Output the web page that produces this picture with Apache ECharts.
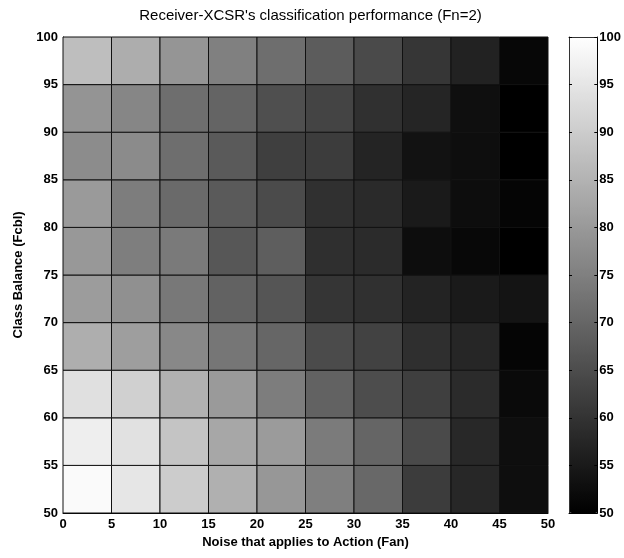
<!DOCTYPE html>
<html>
<head>
<meta charset="utf-8">
<script src="https://cdn.jsdelivr.net/npm/echarts@6/dist/echarts.min.js"></script>
<style>
  html, body { margin: 0; padding: 0; background: #fff; }
  #chart { width: 624px; height: 558px; }
</style>
</head>
<body>
<div id="chart"></div>
<script>
// Lower edges of the cells along each axis (cell size = 5)
const noiseFan = [0, 5, 10, 15, 20, 25, 30, 35, 40, 45];
const balanceFcbl = [50, 55, 60, 65, 70, 75, 80, 85, 90, 95];
const cellStep = 5;

// Performance per class-balance band, one value per noise band (0-5 ... 45-50)
const perf50 = [99.0, 95.1, 90.0, 84.5, 79.6, 74.9, 70.4, 61.8, 57.6, 52.7];
const perf55 = [96.7, 94.1, 88.4, 82.7, 80.4, 74.1, 69.8, 64.5, 57.8, 52.7];
const perf60 = [93.9, 90.8, 84.7, 80.2, 74.5, 69.2, 65.1, 62.4, 58.4, 52.0];
const perf65 = [84.1, 81.0, 76.7, 73.1, 70.0, 64.7, 62.9, 59.2, 57.5, 51.0];
const perf70 = [80.6, 78.2, 73.5, 69.2, 66.7, 60.4, 59.4, 56.9, 55.1, 53.9];
const perf75 = [79.8, 74.7, 73.9, 67.1, 68.4, 59.2, 58.4, 52.5, 51.6, 50.0];
const perf80 = [80.2, 74.5, 70.8, 67.6, 64.7, 59.4, 58.2, 55.1, 52.5, 51.0];
const perf85 = [77.5, 77.3, 71.6, 67.6, 62.4, 61.8, 57.1, 53.5, 52.7, 50.0];
const perf90 = [79.0, 76.3, 71.6, 69.6, 65.5, 63.3, 59.4, 57.3, 52.9, 50.0];
const perf95 = [87.3, 83.9, 79.2, 75.1, 71.6, 68.0, 64.5, 60.6, 56.7, 51.4];
const perfRows = [perf50, perf55, perf60, perf65, perf70, perf75, perf80, perf85, perf90, perf95];

// Tick labels
const xTicks = ['0', '5', '10', '15', '20', '25', '30', '35', '40', '45', '50'];
const yTicks = ['50', '55', '60', '65', '70', '75', '80', '85', '90', '95', '100'];
const colorTicks = ['50', '55', '60', '65', '70', '75', '80', '85', '90', '95', '100'];

const cells = [];
balanceFcbl.forEach((yb, r) => {
  noiseFan.forEach((xb, c) => {
    cells.push([xb, yb, perfRows[r][c]]);
  });
});

const tickFont = "'Liberation Sans Narrow', 'Liberation Sans', Arial, sans-serif";
const labelStyle = { color: '#000', fontFamily: tickFont, fontWeight: 'bold', fontSize: 13 };

const chart = echarts.init(document.getElementById('chart'), null, { renderer: 'canvas' });

chart.setOption({
  backgroundColor: '#fff',
  animation: false,
  title: {
    text: "Receiver-XCSR's classification performance (Fn=2)",
    left: 305.5,
    textAlign: 'center',
    top: 3,
    textStyle: { fontFamily: "'Liberation Sans', Arial, sans-serif", fontWeight: 'normal', fontSize: 15, color: '#000' }
  },
  grid: [
    { left: 63, top: 37, width: 485, height: 476 },
    { left: 569, top: 37, width: 29, height: 476 }
  ],
  xAxis: [
    {
      gridIndex: 0, type: 'value', min: 0, max: 50, interval: 5,
      name: 'Noise that applies to Action (Fan)', nameLocation: 'middle', nameGap: 21,
      nameTextStyle: { fontFamily: "'Liberation Sans', Arial, sans-serif", fontWeight: 'bold', fontSize: 13, color: '#000' },
      axisLine: { show: true, lineStyle: { color: '#000', width: 1 } },
      axisTick: { show: false },
      splitLine: { show: false },
      axisLabel: Object.assign({ margin: 5, formatter: v => xTicks[Math.round(v / 5)] }, labelStyle)
    },
    { gridIndex: 1, type: 'value', min: 0, max: 1, position: 'bottom', z: 10,
      axisLine: { show: true, onZero: false, lineStyle: { color: '#000' } }, axisTick: { show: false }, axisLabel: { show: false }, splitLine: { show: false } },
    { gridIndex: 1, type: 'value', min: 0, max: 1, position: 'top', z: 10,
      axisLine: { show: true, onZero: false, lineStyle: { color: '#333' } }, axisTick: { show: false }, axisLabel: { show: false }, splitLine: { show: false } }
  ],
  yAxis: [
    {
      gridIndex: 0, type: 'value', min: 50, max: 100, interval: 5,
      name: 'Class Balance (Fcbl)', nameLocation: 'middle', nameGap: 35,
      nameTextStyle: { fontFamily: "'Liberation Sans', Arial, sans-serif", fontWeight: 'bold', fontSize: 13, color: '#000' },
      axisLine: { show: true, lineStyle: { color: '#000', width: 1 } },
      axisTick: { show: false },
      splitLine: { show: false },
      axisLabel: Object.assign({ margin: 5, formatter: v => yTicks[Math.round((v - 50) / 5)] }, labelStyle)
    },
    {
      gridIndex: 1, type: 'value', min: 50, max: 100, interval: 5, position: 'right', z: 10,
      axisLine: { show: true, onZero: false, lineStyle: { color: '#000' } },
      axisTick: { show: true, inside: true, length: 3, lineStyle: { color: '#000' } },
      splitLine: { show: false },
      axisLabel: Object.assign({ margin: 2, formatter: v => colorTicks[Math.round((v - 50) / 5)] }, labelStyle)
    },
    {
      gridIndex: 1, type: 'value', min: 50, max: 100, interval: 5, position: 'left', z: 10,
      axisLine: { show: true, onZero: false, lineStyle: { color: '#333' } },
      axisTick: { show: true, inside: true, length: 3, lineStyle: { color: '#000' } },
      splitLine: { show: false },
      axisLabel: { show: false }
    }
  ],
  visualMap: {
    type: 'continuous',
    min: 50, max: 100,
    dimension: 2,
    seriesIndex: 0,
    calculable: false,
    realtime: false,
    hoverLink: false,
    orient: 'vertical',
    left: 569, top: 37,
    itemWidth: 29, itemHeight: 476,
    padding: 0,
    text: null,
    showLabel: false,
    inRange: { color: ['#000000', '#ffffff'] }
  },
  series: [
    {
      type: 'custom',
      xAxisIndex: 0, yAxisIndex: 0,
      data: cells,
      renderItem: function (params, api) {
        const x0 = api.value(0), y0 = api.value(1);
        const pTopLeft = api.coord([x0, y0 + cellStep]);
        const pBottomRight = api.coord([x0 + cellStep, y0]);
        return {
          type: 'rect',
          shape: {
            x: pTopLeft[0], y: pTopLeft[1],
            width: pBottomRight[0] - pTopLeft[0],
            height: pBottomRight[1] - pTopLeft[1]
          },
          style: { fill: api.visual('color'), stroke: '#111', lineWidth: 1 }
        };
      }
    }
  ]
});
</script>
</body>
</html>
